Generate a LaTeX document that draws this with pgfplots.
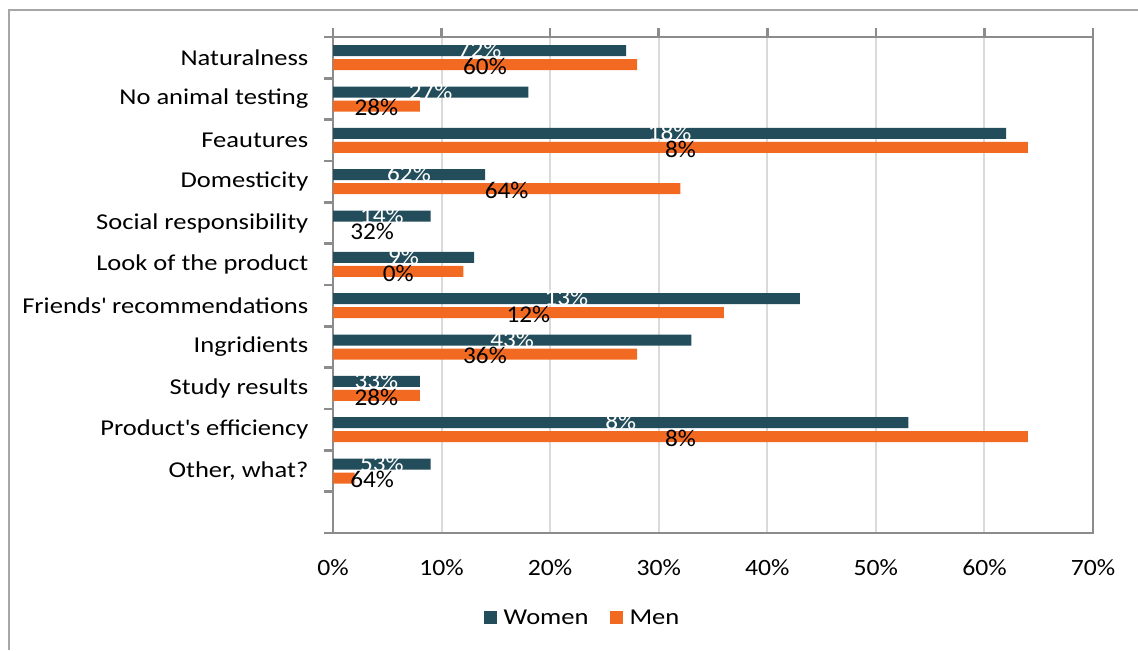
\documentclass[border=0pt]{standalone}
\usepackage{fontspec}
\setmainfont{Carlito}[FakeStretch=1.1]
\newfontfamily\catfont{Carlito}[FakeStretch=1.17]
\newfontfamily\lblfont{Carlito}[FakeStretch=1.05]
\usepackage{pgfplots}
\pgfplotsset{compat=1.18}
\usepackage{pgfplotstable}

\definecolor{women}{HTML}{234D5B}
\definecolor{men}{HTML}{F26A22}
\definecolor{framegray}{HTML}{8C8C8C}
\definecolor{gridgray}{HTML}{DADADA}
\definecolor{outergray}{HTML}{A6A6A6}

% y: category position (top row = 11, empty slot at 0)
% wx/mx: where the value labels sit; wlab/mlab: the printed label text
\pgfplotstableread{
y  women men wx   mx   wlab mlab
11 27    28  13.5 14   72   60
10 18    8   9    4    27   28
9  62    64  31   32   18   8
8  14    32  7    16   62   64
7  9     0   4.5  3.6  14   32
6  13    12  6.5  6    9    0
5  43    36  21.5 18   13   12
4  33    28  16.5 14   43   36
3  8     8   4    4    33   28
2  53    64  26.5 32   8    8
1  9     2   4.5  3.6  53   64
}\survey

\pgfplotsset{
  sqlegend/.style={legend image code/.code={\fill[##1] (0pt,-4.875pt) rectangle (9.75pt,4.875pt); \path (12.75pt,0pt);}},
}

\begin{document}
\begin{tikzpicture}
\useasboundingbox (0,0) rectangle (853.5pt,-487.5pt);
\draw[outergray, line width=1.1pt] (6.75pt,-487.5pt) -- (6.75pt,-7.5pt) -- (853.5pt,-7.5pt);
\begin{axis}[
  at={(249.75pt,-399.75pt)}, anchor=south west,
  scale only axis, width=570pt, height=372pt,
  xbar, bar width=8.25pt,
  xmin=0, xmax=70, ymin=-0.5, ymax=11.5,
  xtick={0,10,...,70},
  xticklabel={\pgfmathprintnumber{\tick}\%},
  /pgf/number format/assume math mode=true,
  xtick pos=right, xticklabel pos=left,
  ytick={-0.5,0.5,...,11.5}, yticklabels={},
  ytick pos=left,
  extra y ticks={1,2,3,4,5,6,7,8,9,10,11},
  extra y tick labels={{Other, what?},Product\textquotesingle s efficiency,Study results,Ingridients,Friends\textquotesingle\ recommendations,Look of the product,Social responsibility,Domesticity,Feautures,No animal testing,Naturalness},
  extra y tick style={major tick length=0pt, grid=none,
    yticklabel style={xshift=-15pt, font=\catfont\fontsize{17pt}{20pt}\selectfont}},
  tick align=outside, major tick length=6.75pt,
  tick style={framegray, line width=2pt},
  axis line style={framegray, line width=2pt},
  xmajorgrids, major grid style={gridgray, line width=1.5pt},
  ticklabel style={font=\fontsize{17.5pt}{20pt}\selectfont, text=black},
  xticklabel style={yshift=-10pt},
  legend style={at={(axis description cs:0.329,-0.171)}, anchor=center, draw=none,
    font=\catfont\fontsize{17pt}{20pt}\selectfont, legend columns=2,
    /tikz/every even column/.append style={column sep=14pt}},
]
\addplot[xbar, fill=women, draw=none, bar shift=5.25pt, sqlegend] table[x=women, y=y] {\survey};
\addlegendentry{Women}
\addplot[xbar, fill=men, draw=none, bar shift=-5.25pt, sqlegend] table[x=men, y=y] {\survey};
\addlegendentry{Men}

% value labels
\addplot[sharp plot, draw=none, mark=none, forget plot,
  point meta=explicit symbolic,
  nodes near coords={\pgfplotspointmeta\%},
  nodes near coords align=center,
  every node near coord/.style={anchor=center, text=white, font=\lblfont\fontsize{18pt}{20pt}\selectfont}]
  table[x=wx, y expr=\thisrow{y}+0.19, meta=wlab] {\survey};
\addplot[sharp plot, draw=none, mark=none, forget plot,
  point meta=explicit symbolic,
  nodes near coords={\pgfplotspointmeta\%},
  nodes near coords align=center,
  every node near coord/.style={anchor=center, text=black, font=\lblfont\fontsize{18pt}{20pt}\selectfont}]
  table[x=mx, y expr=\thisrow{y}-0.21, meta=mlab] {\survey};
\end{axis}
\end{tikzpicture}
\end{document}
